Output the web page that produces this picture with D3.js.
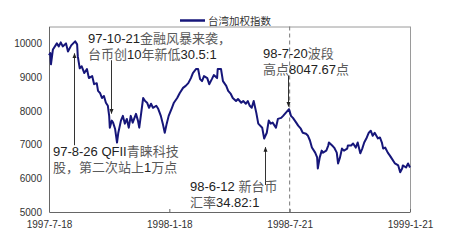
<!DOCTYPE html>
<html>
<head>
<meta charset="utf-8">
<script src="https://cdn.jsdelivr.net/npm/d3@7"></script>
<style>
  body { margin: 0; background: #fff; }
  svg { display: block; }
</style>
</head>
<body>
<svg id="chart" width="450" height="251"></svg>
<script>
// 台湾加权指数
var dates = [
  "1997-07-18","1997-07-20","1997-07-21","1997-07-24","1997-07-30","1997-08-02","1997-08-05","1997-08-08","1997-08-13","1997-08-16",
  "1997-08-21","1997-08-24","1997-08-27","1997-08-30","1997-08-31","1997-09-03","1997-09-06","1997-09-10","1997-09-14","1997-09-17",
  "1997-09-22","1997-09-25","1997-09-29","1997-10-01","1997-10-04","1997-10-07","1997-10-10","1997-10-13","1997-10-16","1997-10-18",
  "1997-10-19","1997-10-22","1997-10-24","1997-10-27","1997-10-30","1997-11-01","1997-11-05","1997-11-08","1997-11-11","1997-11-14",
  "1997-11-17","1997-11-20","1997-11-23","1997-11-28","1997-12-01","1997-12-03","1997-12-06","1997-12-09","1997-12-12","1997-12-15",
  "1997-12-18","1997-12-21","1997-12-24","1997-12-29","1998-01-01","1998-01-05","1998-01-08","1998-01-11","1998-01-14","1998-01-17",
  "1998-01-22","1998-01-25","1998-01-30","1998-02-03","1998-02-08","1998-02-12","1998-02-16","1998-02-20","1998-02-23","1998-02-28",
  "1998-03-03","1998-03-06","1998-03-09","1998-03-12","1998-03-17","1998-03-20","1998-03-24","1998-03-27","1998-04-01","1998-04-02",
  "1998-04-07","1998-04-10","1998-04-15","1998-04-18","1998-04-22","1998-04-25","1998-04-30","1998-05-03","1998-05-08","1998-05-11",
  "1998-05-15","1998-05-18","1998-05-21","1998-05-24","1998-05-27","1998-05-31","1998-06-03","1998-06-09","1998-06-12","1998-06-16",
  "1998-06-19","1998-06-22","1998-06-25","1998-06-30","1998-07-03","1998-07-08","1998-07-11","1998-07-15","1998-07-20","1998-07-23",
  "1998-07-26","1998-07-31","1998-08-03","1998-08-07","1998-08-10","1998-08-15","1998-08-18","1998-08-21","1998-08-24","1998-08-29",
  "1998-09-01","1998-09-02","1998-09-05","1998-09-08","1998-09-10","1998-09-15","1998-09-18","1998-09-19","1998-09-24","1998-09-27",
  "1998-10-01","1998-10-03","1998-10-06","1998-10-09","1998-10-12","1998-10-17","1998-10-18","1998-10-23","1998-10-26","1998-10-30",
  "1998-11-02","1998-11-06","1998-11-09","1998-11-12","1998-11-16","1998-11-19","1998-11-22","1998-11-25","1998-11-28","1998-12-03",
  "1998-12-06","1998-12-09","1998-12-11","1998-12-14","1998-12-18","1998-12-21","1998-12-24","1998-12-29","1999-01-03","1999-01-06",
  "1999-01-09","1999-01-10","1999-01-15","1999-01-18","1999-01-21"
];
var values = [
  9650,9710,9380,9820,10000,9910,10030,9910,10000,9760,
  9940,10000,10060,9970,9620,9260,9320,9120,9240,8970,
  9030,8790,8820,8590,8530,8380,8440,8240,8150,7850,
  7500,7710,7650,7470,7060,7350,7710,7850,7620,7760,
  7500,7850,7650,7910,7710,7500,7940,8380,8290,8240,
  8090,8210,8090,8150,8060,7850,7620,7350,7620,7850,
  8090,8240,8380,8530,8680,8740,8820,8970,9120,9240,
  9240,8940,8880,9030,8970,8790,8940,9060,8970,9240,
  9240,8880,8740,8590,8500,8380,8290,8350,8240,8290,
  8210,8290,8150,8090,8290,7940,7620,7500,7180,7350,
  7710,7620,7650,7500,7760,7790,7850,7940,8050,7850,
  7790,7650,7560,7470,7350,7320,7260,7120,6910,6760,
  6620,6290,6620,6820,6760,6820,6970,7060,6970,6910,
  6760,6440,6620,6880,6820,6880,6970,6970,7030,6910,
  7060,6740,6880,7060,7210,7350,7410,7260,7350,7180,
  7210,7060,6880,6910,6760,6680,6590,6440,6380,6180,
  6290,6380,6320,6440,6320
];
var xTicks = ["1997-07-18","1998-01-18","1998-07-21","1999-01-21"];
var xTickLabels = ["1997-7-18","1998-1-18","1998-7-21","1999-1-21"];
var yTicks = [5000,6000,7000,8000,9000,10000];
var seriesName = "台湾加权指数";
var markerDate = "1998-07-21";

// notes: arrow at a date between two index levels, text block
var notes = [
  { lines: ["97-10-21金融风暴来袭，", "台币创10年新低30.5:1"], date: "1997-10-21", from: 9500, to: 7920, tx: 88, ty: 43 },
  { lines: ["97-8-26 QFII青睐科技", "股，第二次站上1万点"], date: "1997-08-25", from: 6980, to: 9700, tx: 53, ty: 156 },
  { lines: ["98-6-12 新台币", "汇率34.82:1"], date: "1998-06-13", from: 5800, to: 6920, tx: 190, ty: 191 },
  { lines: ["98-7-20波段", "高点8047.67点"], date: "1998-07-19", from: 9050, to: 8130, tx: 263, ty: 58 }
];

var parse = d3.timeParse("%Y-%m-%d");
var data = dates.map(function(d, i) { return { date: parse(d), value: values[i] }; });

var margin = { left: 49, right: 40, top: 26.5, bottom: 39 };
var width = 450 - margin.left - margin.right;
var height = 251 - margin.top - margin.bottom;

var x = d3.scaleTime().domain([parse("1997-07-18"), parse("1999-01-21")]).range([0, width]);
var y = d3.scaleLinear().domain([5000, 10500]).range([height, 0]);

var svg = d3.select("#chart");
var g = svg.append("g").attr("transform", "translate(" + margin.left + "," + margin.top + ")");

var latin = "'Liberation Sans', Arial, sans-serif";
var mixed = "'Liberation Sans', 'Noto Sans CJK SC', sans-serif";

// frame
g.append("line").attr("x1", 0).attr("x2", width).attr("y1", 0.5).attr("y2", 0.5).attr("stroke", "#9a9a9a");
g.append("line").attr("x1", width + 0.5).attr("x2", width + 0.5).attr("y1", 0).attr("y2", height).attr("stroke", "#9a9a9a");

// y axis
var yAxis = g.append("g").call(d3.axisLeft(y).tickValues(yTicks).tickSize(0).tickPadding(7).tickFormat(d3.format("d")));
yAxis.select(".domain").attr("stroke", "#666");
yAxis.selectAll("text").attr("font-family", latin).attr("font-size", 10).attr("fill", "#333");

// x axis
var xAxis = g.append("g").attr("transform", "translate(0," + height + ")")
  .call(d3.axisBottom(x).tickValues(xTicks.map(parse)).tickSizeInner(-3).tickSizeOuter(0).tickPadding(9)
    .tickFormat(function(d, i) { return xTickLabels[i]; }));
xAxis.select(".domain").attr("stroke", "#666");
xAxis.selectAll(".tick line").attr("stroke", "#666");
xAxis.selectAll("text").attr("font-family", latin).attr("font-size", 10).attr("fill", "#333");

// dashed marker
g.append("line")
  .attr("x1", x(parse(markerDate))).attr("x2", x(parse(markerDate)))
  .attr("y1", 0).attr("y2", height)
  .attr("stroke", "#777").attr("stroke-dasharray", "4,3");

// series
var line = d3.line().x(function(d) { return x(d.date); }).y(function(d) { return y(d.value); });
g.append("path").datum(data)
  .attr("fill", "none")
  .attr("stroke", "#16167a")
  .attr("stroke-width", 2)
  .attr("stroke-linejoin", "round")
  .attr("d", line);

// legend
svg.append("line").attr("x1", 180).attr("x2", 205).attr("y1", 20.5).attr("y2", 20.5)
  .attr("stroke", "#16167a").attr("stroke-width", 2.5);
svg.append("text").attr("x", 208).attr("y", 24.5)
  .attr("font-family", mixed).attr("font-size", 10.5).attr("fill", "#333").text(seriesName);

// arrows
svg.append("defs").append("marker")
  .attr("id", "head").attr("viewBox", "0 0 10 10").attr("refX", 9).attr("refY", 5)
  .attr("markerWidth", 5).attr("markerHeight", 5).attr("orient", "auto")
  .append("path").attr("d", "M0,1L10,5L0,9Z").attr("fill", "#222");

notes.forEach(function(n) {
  var ax = Math.round(x(parse(n.date))) + 0.5;
  g.append("line")
    .attr("x1", ax).attr("x2", ax)
    .attr("y1", y(n.from)).attr("y2", y(n.to))
    .attr("stroke", "#333").attr("stroke-width", 1)
    .attr("marker-end", "url(#head)");

  n.lines.forEach(function(s, i) {
    var t = svg.append("text").attr("x", n.tx).attr("y", n.ty + i * 15.5)
      .attr("font-size", 13).attr("font-family", mixed);
    var parts = s.match(/[\u3000-\u9fff\uff00-\uffef]+|[^\u3000-\u9fff\uff00-\uffef]+/g);
    parts.forEach(function(p) {
      var isCjk = /[\u3000-\u9fff\uff00-\uffef]/.test(p);
      t.append("tspan").text(p).attr("fill", isCjk ? "#5a5a5a" : "#222");
    });
  });
});
</script>
</body>
</html>
